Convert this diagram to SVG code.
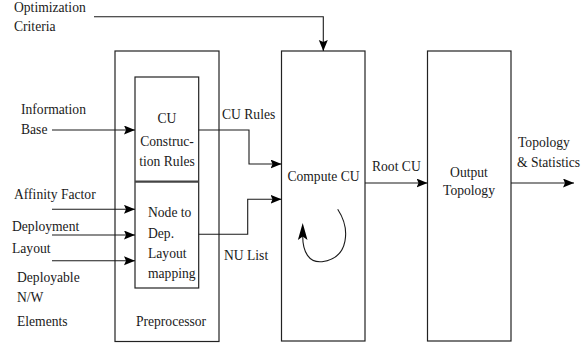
<svg xmlns="http://www.w3.org/2000/svg" width="587" height="349" viewBox="0 0 587 349" font-family="'Liberation Serif', serif">
<defs>
<style>
text{font-family:'Liberation Serif','DejaVu Serif',serif;font-size:13.6px;fill:#1a1a1a}
.box{fill:#fff;stroke:#222;stroke-width:1.2}
.c{fill:none;stroke:#1a1a1a;stroke-width:1.1}
.mid{text-anchor:middle}
</style>
<marker id="ah" markerUnits="userSpaceOnUse" markerWidth="12" markerHeight="10" refX="11" refY="4.5" orient="auto">
<path d="M0,0 L11,4.5 L0,9 L2,4.5 z" fill="#000"/>
</marker>
</defs>
<rect width="587" height="349" fill="#fff"/>

<g id="preprocessor">
<rect class="box" x="115" y="51" width="104" height="290.5"/>
<text x="171" y="326" class="mid">Preprocessor</text>
</g>
<g id="cu-construction-rules">
<rect class="box" x="135" y="77" width="63.7" height="211"/>
<text x="167" y="123" class="mid">CU</text>
<text x="167" y="146" class="mid">Construc-</text>
<text x="167" y="166" class="mid">tion Rules</text>
</g>
<g id="node-mapping">
<line x1="135" y1="181.7" x2="198.7" y2="181.7" stroke="#444" stroke-width="2.2"/>
<text x="148" y="216.7">Node to</text>
<text x="148" y="238.3">Dep.</text>
<text x="148" y="258.3">Layout</text>
<text x="148" y="278.3">mapping</text>
</g>
<g id="compute-cu">
<rect class="box" x="281.5" y="51" width="83.5" height="290"/>
<text x="323.5" y="181" class="mid">Compute CU</text>
<path class="c" d="M337.7,209.3 C350,228 350,258 322,261.7 C309,263 302.7,252 302.7,236"/>
<path d="M302.7,223 L307.5,240 L302.7,236.5 L297.9,240 z" fill="#000"/>
</g>
<g id="output-topology">
<rect class="box" x="427.5" y="51" width="83.5" height="290"/>
<text x="469" y="177" class="mid">Output</text>
<text x="469" y="195" class="mid">Topology</text>
</g>

<g id="inputs">
<text x="14" y="12">Optimization</text>
<text x="14" y="31">Criteria</text>
<text x="21" y="114">Information</text>
<text x="21" y="134">Base</text>
<text x="14" y="199">Affinity Factor</text>
<text x="12" y="231">Deployment</text>
<text x="12" y="252.7">Layout</text>
<text x="17" y="282">Deployable</text>
<text x="17" y="302">N/W</text>
<text x="17" y="325.7">Elements</text>
</g>

<g id="connectors">
<path class="c" d="M94,16.7 H323.3 V51" marker-end="url(#ah)"/>
<path class="c" d="M52,130 H135" marker-end="url(#ah)"/>
<path class="c" d="M52,209.3 H135" marker-end="url(#ah)"/>
<path class="c" d="M52,235 H135" marker-end="url(#ah)"/>
<path class="c" d="M52,260.7 H135" marker-end="url(#ah)"/>
<path class="c" d="M198.7,130 H249 V164 H281.5" marker-end="url(#ah)"/>
<path class="c" d="M198.7,234.3 H247.7 V199.3 H281.5" marker-end="url(#ah)"/>
<path class="c" d="M365,183 H427.5" marker-end="url(#ah)"/>
<path class="c" d="M511,183 H574" marker-end="url(#ah)"/>
<text x="222" y="119">CU Rules</text>
<text x="224" y="260">NU List</text>
<text x="372" y="171">Root CU</text>
<text x="518" y="147">Topology</text>
<text x="517" y="166.7">&amp; Statistics</text>
</g>
</svg>
